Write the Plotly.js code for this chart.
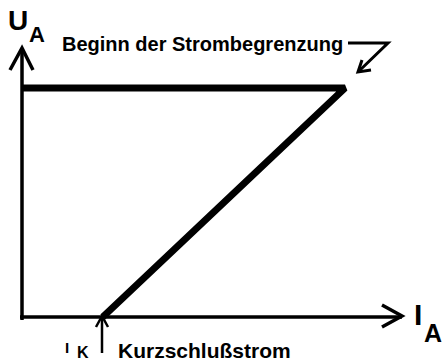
<!DOCTYPE html>
<html>
<head>
<meta charset="utf-8">
<script src="https://cdn.plot.ly/plotly-3.0.1.min.js"></script>
<style>html,body{margin:0;padding:0;background:#fff}#chart{width:446px;height:363px}</style>
</head>
<body>
<div id="chart"></div>
<script>
// Characteristic of a current-limited supply (normalised units)
const current = [0, 1.0, 0.25];   // I_A : start, Beginn der Strombegrenzung, I_K
const voltage = [1.0, 1.0, 0];    // U_A
const labelUA = ["U", "A"];
const labelIA = ["I", "A"];
const labelIK = ["I", "K"];
const textBegin = "Beginn der Strombegrenzung";
const textShort = "Kurzschlußstrom";

const W = 446, H = 363;
const ox = 22, oy = 317, ux = 323, uy = 229;   // origin and unit size in px
const xr = [-ox / ux, (W - ox) / ux];
const yr = [-(H - oy) / uy, oy / uy];
// pixel -> paper helpers for hand-drawn decorations
const px = v => v / W;
const py = v => 1 - v / H;
const F = "Liberation Sans, Arial, sans-serif";

function seg(x0, y0, x1, y1, w) {
  return {type: "line", xref: "paper", yref: "paper",
    x0: px(x0), y0: py(y0), x1: px(x1), y1: py(y1),
    line: {color: "#000", width: w}};
}
function poly(pts, w) {
  let d = "M" + pts.map(p => px(p[0]) + "," + py(p[1])).join(" L");
  return {type: "path", xref: "paper", yref: "paper", path: d,
    line: {color: "#000", width: w}};
}
function lab(t, x, y, size, xa, ya) {
  return {text: t, xref: "paper", yref: "paper", x: px(x), y: py(y),
    xanchor: xa || "center", yanchor: ya || "middle", showarrow: false,
    font: {family: F, size: size, color: "#000", weight: "bold"}};
}

const shapes = [
  seg(22, 320, 22, 48, 3.5),            // U axis
  poly([[10, 70], [22, 48], [33, 70]], 3.5),
  seg(20, 317, 402, 317, 3.5),          // I axis
  poly([[382, 305], [402, 316], [382, 327]], 3.5),
  seg(102, 353, 102, 317, 2.5),         // I_K pointer
  poly([[96, 327], [102, 316], [108, 327]], 2.5),
  poly([[348, 43], [388, 43], [358, 72]], 3),   // pointer to Beginn
  poly([[362, 60], [358, 72], [371, 70]], 3)
];

const annotations = [
  lab(labelUA[0], 18, 20, 28),
  lab(labelUA[1], 37, 35, 22),
  lab(textBegin, 60, 44, 20, "left"),
  lab(labelIA[0], 424, 314, 30, "right"),
  lab(labelIA[1], 422, 333, 25, "left"),
  lab(labelIK[0], 67, 347, 15),
  lab(labelIK[1], 83, 363, 16, "center", "bottom"),
  lab(textShort, 116, 350, 21, "left")
];

const trace = {
  x: current, y: voltage, type: "scatter", mode: "lines",
  line: {color: "#000", width: 7}, hoverinfo: "skip"
};

Plotly.newPlot("chart", [trace], {
  width: W, height: H, margin: {l: 0, r: 0, t: 0, b: 0},
  paper_bgcolor: "#fff", plot_bgcolor: "#fff", showlegend: false,
  xaxis: {range: xr, visible: false, fixedrange: true},
  yaxis: {range: yr, visible: false, fixedrange: true},
  shapes: shapes, annotations: annotations
}, {staticPlot: true, displayModeBar: false});
</script>
</body>
</html>
